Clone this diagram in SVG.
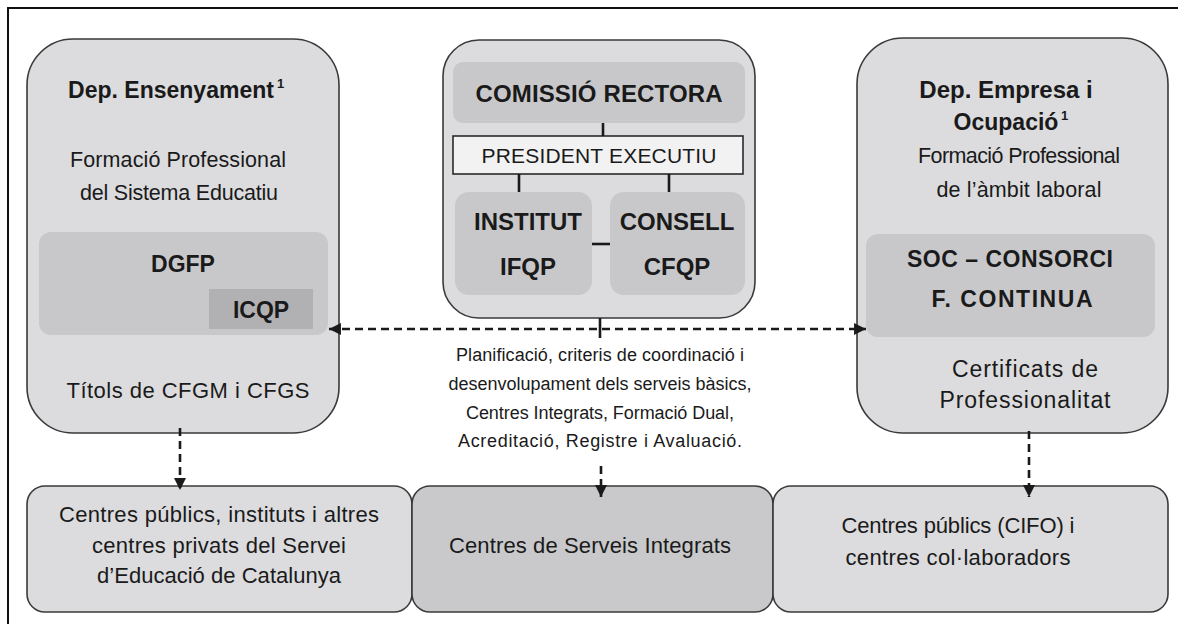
<svg xmlns="http://www.w3.org/2000/svg" width="1178" height="624" viewBox="0 0 1178 624">
<style>
text{font-family:"Liberation Sans",Arial,sans-serif;fill:#1a1a1a;text-anchor:middle}
.b{font-weight:bold}
.big{fill:#dcdcde;stroke:#3a3a3a;stroke-width:1.6}
.inner{fill:#c8c8ca;stroke:none}
.dash{stroke:#1a1a1a;stroke-width:2.6;stroke-dasharray:8 5;fill:none}
.solid{stroke:#1a1a1a;stroke-width:2.6;fill:none}
.sup{font-size:13px;font-weight:bold;text-anchor:start}
</style>
<defs>
<marker id="ah" viewBox="0 0 10 10" refX="10" refY="5" markerWidth="4.6" markerHeight="4.6" orient="auto-start-reverse" markerUnits="strokeWidth">
<path d="M0,0 L10,5 L0,10 z" fill="#1a1a1a"/>
</marker>
</defs>
<rect x="8" y="8" width="1190" height="640" fill="#ffffff" stroke="#111" stroke-width="2"/>

<g id="dep-ensenyament">
<rect class="big" x="27" y="39" width="312" height="394" rx="46"/>
<text class="b" x="171" y="98" font-size="23">Dep. Ensenyament</text>
<text class="sup" x="277" y="88">1</text>
<text x="178" y="167" font-size="21.5" textLength="216">Formació Professional</text>
<text x="179" y="200" font-size="21.5" textLength="198">del Sistema Educatiu</text>
<rect class="inner" x="39" y="232" width="289" height="103" rx="12"/>
<text class="b" x="183" y="272" font-size="23">DGFP</text>
<rect x="209" y="289" width="104" height="40" fill="#b1b1b3"/>
<text class="b" x="261" y="318" font-size="23">ICQP</text>
<text x="188" y="398" font-size="22" textLength="243">Títols de CFGM i CFGS</text>
</g>

<g id="consorci">
<rect class="big" x="443" y="40" width="312" height="278" rx="36"/>
<rect class="inner" x="453" y="62" width="292" height="61" rx="10"/>
<text class="b" x="599" y="102" font-size="24" textLength="247">COMISSIÓ RECTORA</text>
<rect x="453" y="136" width="290" height="38" fill="#f2f2f2" stroke="#2a2a2a" stroke-width="1.6"/>
<text x="599" y="163" font-size="21" textLength="235">PRESIDENT EXECUTIU</text>
<rect class="inner" x="455" y="192" width="137" height="103" rx="14"/>
<text class="b" x="528" y="230" font-size="24">INSTITUT</text>
<text class="b" x="528" y="275" font-size="24">IFQP</text>
<rect class="inner" x="610" y="192" width="135" height="103" rx="14"/>
<text class="b" x="677" y="230" font-size="24">CONSELL</text>
<text class="b" x="677" y="275" font-size="24">CFQP</text>
</g>

<g id="dep-empresa">
<rect class="big" x="857" y="38" width="311" height="395" rx="46"/>
<text class="b" x="1006" y="98" font-size="24">Dep. Empresa i</text>
<text class="b" x="1006" y="130" font-size="23">Ocupació</text>
<text class="sup" x="1061" y="120">1</text>
<text x="1019" y="163" font-size="21.5" textLength="202">Formació Professional</text>
<text x="1019" y="197" font-size="21.5" textLength="165">de l’àmbit laboral</text>
<rect class="inner" x="866" y="234" width="289" height="103" rx="12"/>
<text class="b" x="1010" y="267" font-size="23" textLength="206">SOC – CONSORCI</text>
<text class="b" x="1012" y="307" font-size="23" textLength="161">F. CONTINUA</text>
<text x="1025" y="377" font-size="23" textLength="146">Certificats de</text>
<text x="1025" y="408" font-size="23" textLength="171">Professionalitat</text>
</g>

<g id="centres-ensenyament">
<rect class="big" x="27" y="486" width="385" height="126" rx="18"/>
<text x="219" y="522" font-size="22" textLength="320">Centres públics, instituts i altres</text>
<text x="219" y="553" font-size="22" textLength="254">centres privats del Servei</text>
<text x="219" y="583" font-size="22" textLength="244">d’Educació de Catalunya</text>
</g>

<g id="centres-integrats">
<rect x="412" y="486" width="361" height="126" rx="18" fill="#c9c9cb" stroke="#3a3a3a" stroke-width="1.6"/>
<text x="590" y="553" font-size="22" textLength="282">Centres de Serveis Integrats</text>
</g>

<g id="centres-empresa">
<rect class="big" x="773" y="486" width="395" height="126" rx="18"/>
<text x="958" y="533" font-size="22" textLength="233">Centres públics (CIFO) i</text>
<text x="958" y="565" font-size="22" textLength="225">centres col·laboradors</text>
</g>

<g id="middle-label">
<text x="600" y="361" font-size="18" textLength="288">Planificació, criteris de coordinació i</text>
<text x="600" y="390" font-size="18" textLength="303">desenvolupament dels serveis bàsics,</text>
<text x="600" y="419" font-size="18" textLength="268">Centres Integrats, Formació Dual,</text>
<text x="600" y="447" font-size="18" textLength="284">Acreditació, Registre i Avaluació.</text>
</g>

<g id="connectors">
<line class="solid" x1="603" y1="123" x2="603" y2="136"/>
<line class="solid" x1="519" y1="174" x2="519" y2="192"/>
<line class="solid" x1="669" y1="174" x2="669" y2="192"/>
<line class="solid" x1="592" y1="244" x2="610" y2="244"/>
<line class="solid" x1="600" y1="318" x2="600" y2="338"/>
<line class="dash" x1="329" y1="329" x2="866" y2="329" marker-start="url(#ah)" marker-end="url(#ah)"/>
<line class="dash" x1="180" y1="428" x2="180" y2="490" marker-end="url(#ah)"/>
<line class="dash" x1="601" y1="466" x2="601" y2="497" marker-end="url(#ah)"/>
<line class="dash" x1="1029" y1="431" x2="1029" y2="497" marker-end="url(#ah)"/>
</g>
</svg>
